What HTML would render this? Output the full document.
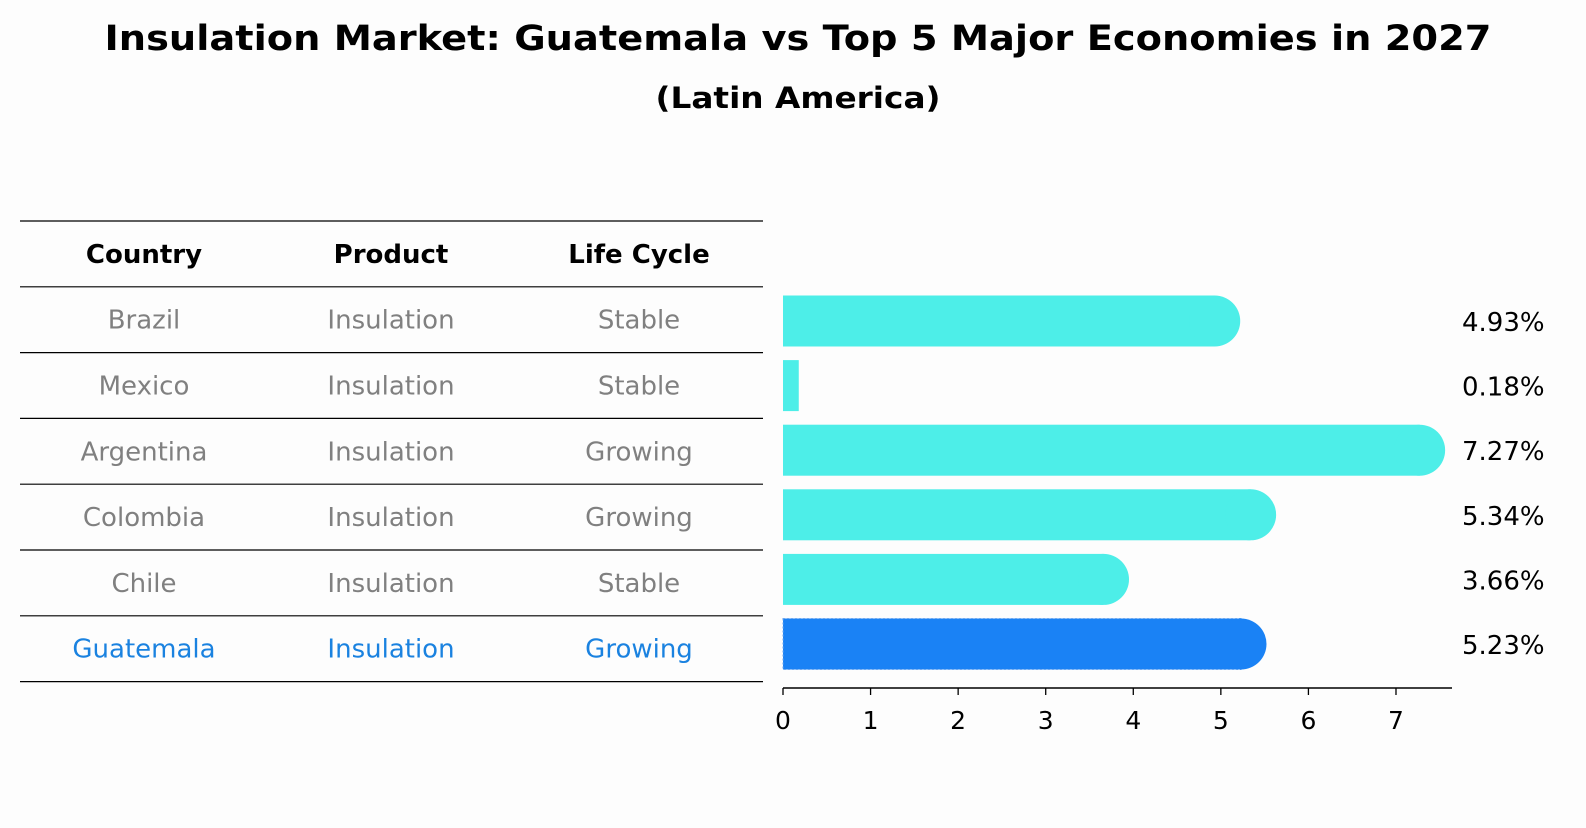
<!DOCTYPE html>
<html><head><meta charset="utf-8"><style>
body{margin:0;background:#fdfdfd;font-family:"Liberation Sans","DejaVu Sans",sans-serif;}
svg text{font-family:"DejaVu Sans","Liberation Sans",sans-serif;}
</style></head><body>
<svg id="c" width="1586" height="823" viewBox="0 0 1586 823" xmlns="http://www.w3.org/2000/svg">
<rect width="1586" height="823" fill="#fdfdfd"/>
<text x="798" y="50" text-anchor="middle" font-size="35" font-weight="bold" textLength="1387" lengthAdjust="spacingAndGlyphs">Insulation Market: Guatemala vs Top 5 Major Economies in 2027</text>
<text x="798" y="108" text-anchor="middle" font-size="29" font-weight="bold" textLength="285" lengthAdjust="spacingAndGlyphs">(Latin America)</text>
<g id="table"></g>
<g id="bars"></g>
</svg>
<script>
const countries=["Brazil","Mexico","Argentina","Colombia","Chile","Guatemala"];
const products=["Insulation","Insulation","Insulation","Insulation","Insulation","Insulation"];
const lifecycles=["Stable","Stable","Growing","Growing","Stable","Growing"];
const values=[4.93,0.18,7.27,5.34,3.66,5.23];
const ticks=[0,1,2,3,4,5,6,7];
const NS="http://www.w3.org/2000/svg";
function mk(tag,attrs,parent,txt){const e=document.createElementNS(NS,tag);for(const k in attrs)e.setAttribute(k,attrs[k]);if(txt!==undefined)e.textContent=txt;parent.appendChild(e);return e;}
const tg=document.getElementById('table'),bg=document.getElementById('bars');
const rowH=65.8,top0=221,colX=[144,391,639];
function xs(v){return 783+v*87.57;}
function yc(i){return 321+i*64.6;}
for(let r=0;r<=countries.length+1;r++){const l=mk('line',{x1:20,x2:763,y1:top0+r*rowH,y2:top0+r*rowH,stroke:'#000','stroke-width':1.2},tg);

}
["Country","Product","Life Cycle"].forEach((h,j)=>{const t=mk('text',{x:colX[j],y:top0+rowH/2+9,'text-anchor':'middle','font-size':26,'font-weight':'bold'},tg,h);

});
countries.forEach((c,i)=>{const col=i===countries.length-1?'#1a82e0':'#808080';
[c,products[i],lifecycles[i]].forEach((v,j)=>{const t=mk('text',{x:colX[j],y:top0+rowH*(i+1.5)+9,'text-anchor':'middle','font-size':26,fill:col},tg,v);

});});
const bh=51,r=25.5;
values.forEach((v,i)=>{const last=i===values.length-1;const fill=last?'#1a82f5':'#4deee8';const y=yc(i);
const g=mk('g',{},bg);


mk('rect',{x:783,y:y-bh/2,width:xs(v)-783,height:bh,fill:fill,stroke:last?'#6fa8f0':'none','stroke-dasharray':'2 2'},g);
if(xs(v)-783>r*2)mk('circle',{cx:xs(v),cy:y,r:r,fill:fill},g);
const t=mk('text',{x:1462,y:y+10,'font-size':26},bg,v.toFixed(2)+'%');

});
const ax=mk('line',{x1:783,x2:1452,y1:688,y2:688,stroke:'#000','stroke-width':1.5},bg);


ticks.forEach(t=>{mk('line',{x1:xs(t),x2:xs(t),y1:688,y2:695,stroke:'#000','stroke-width':1.3},bg);
const l=mk('text',{x:xs(t),y:729,'text-anchor':'middle','font-size':25},bg,t);

});
</script>
</body></html>
